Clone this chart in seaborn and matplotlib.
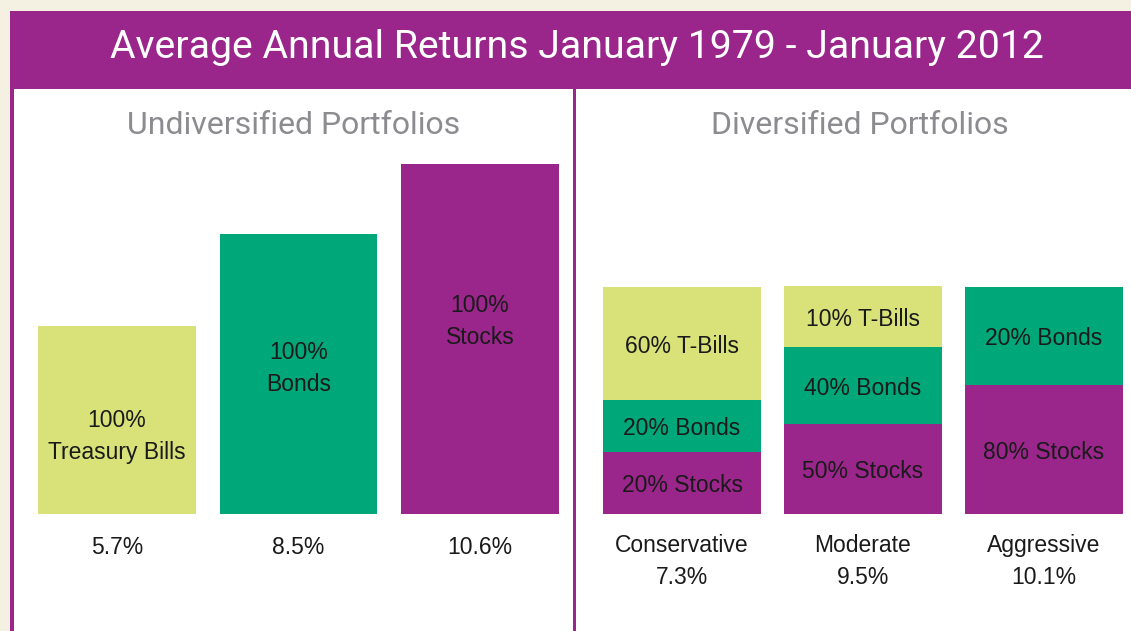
import seaborn as sns
from matplotlib import pyplot as plt
from matplotlib.patches import Rectangle
import pandas as pd

sns.set_theme(style='white')

# colours
purple = '#9A258B'
green = '#00A779'
yellow = '#D8E279'
cream = '#F4F1E3'

# data
undiv_names = ['Treasury Bills', 'Bonds', 'Stocks']
undiv_returns = [5.7, 8.5, 10.6]
undiv_labels = ['100%\nTreasury Bills', '100%\nBonds', '100%\nStocks']

div_names = ['Conservative', 'Moderate', 'Aggressive']
div_returns = [7.3, 9.5, 10.1]
# drawn segment heights (same units as the left panel)
div_stocks = [1.88, 2.73, 3.91]
div_bonds = [1.58, 2.33, 2.97]
div_tbills = [3.42, 1.85, 0.0]
stock_labels = ['20% Stocks', '50% Stocks', '80% Stocks']
bond_labels = ['20% Bonds', '40% Bonds', '20% Bonds']
tbill_labels = ['60% T-Bills', '10% T-Bills', '']

label_font = ['Liberation Sans', 'DejaVu Sans']
title_font = ['Roboto', 'DejaVu Sans']

W, H = 1131, 631
fig = plt.figure(figsize=(W / 100, H / 100), dpi=100)
fig.patch.set_facecolor(cream)

# frame: white panel, title bar, left border, divider
bg = fig.add_axes([0, 0, 1, 1])
bg.set_xlim(0, W)
bg.set_ylim(H, 0)
bg.axis('off')
bg.add_patch(Rectangle((10, 11), W - 10, H - 11, color='white', lw=0))
bg.add_patch(Rectangle((10, 11), W - 10, 78, color=purple, lw=0))
bg.add_patch(Rectangle((10, 89), 3.5, H - 89, color=purple, lw=0))
bg.add_patch(Rectangle((572.5, 89), 3.5, H - 89, color=purple, lw=0))

bg.text(577, 48, 'Average Annual Returns January 1979 - January 2012', color='white',
        fontsize=28.3, ha='center', va='center', family=title_font)
bg.text(294, 125, 'Undiversified Portfolios', color='#8C8C90', fontsize=23,
        ha='center', va='center', family=title_font)
bg.text(860, 125, 'Diversified Portfolios', color='#8C8C90', fontsize=23,
        ha='center', va='center', family=title_font)

# value axis: 0 at pixel 514, 33 px per unit
base, k = 514, 33.0
ylim = (-(H - base) / k, (base - 89) / k)
ax_h = (H - 89) / H
fs = 16.5
tc = '#1a1a1a'


def make_ax(px0, px1):
    ax = fig.add_axes([px0 / W, 0, (px1 - px0) / W, ax_h])
    ax.patch.set_alpha(0)
    return ax


# left panel
ax1 = make_ax(13.5, 572.5)
df1 = pd.DataFrame({'name': undiv_names, 'ret': undiv_returns})
sns.barplot(data=df1, x='name', y='ret', hue='name', palette=[yellow, green, purple],
            width=0.87, saturation=1, linewidth=0, legend=False, ax=ax1)
ax1.set_xlim((13.5 - 117) / 181.5, (572.5 - 117) / 181.5)
ax1.set_ylim(*ylim)
ax1.axis('off')
label_pos = [0.41, 0.52, 0.55]
for i, (v, lab) in enumerate(zip(undiv_returns, undiv_labels)):
    ax1.text(i, v * label_pos[i], lab, ha='center', va='center', fontsize=fs,
             family=label_font, color=tc, linespacing=1.5)
    ax1.text(i, -1.0, f'{v}%', ha='center', va='center', fontsize=fs,
             family=label_font, color=tc)

# right panel (stacked)
ax2 = make_ax(576, W)
cum1 = list(div_stocks)
cum2 = [a + b for a, b in zip(cum1, div_bonds)]
cum3 = [a + b for a, b in zip(cum2, div_tbills)]
for tops, col in [(cum3, yellow), (cum2, green), (cum1, purple)]:
    d = pd.DataFrame({'name': div_names, 'h': tops})
    sns.barplot(data=d, x='name', y='h', color=col, width=0.87, saturation=1,
                linewidth=0, ax=ax2)
ax2.set_xlim((576 - 682) / 181, (W - 682) / 181)
ax2.set_ylim(*ylim)
ax2.axis('off')
for i in range(3):
    for lo, hi, lab in [(0, cum1[i], stock_labels[i]), (cum1[i], cum2[i], bond_labels[i]),
                        (cum2[i], cum3[i], tbill_labels[i])]:
        if lab:
            ax2.text(i, (lo + hi) / 2 - 0.08, lab, ha='center', va='center', fontsize=fs,
                     family=label_font, color=tc)
    ax2.text(i, -1.45, f'{div_names[i]}\n{div_returns[i]}%', ha='center', va='center',
             fontsize=fs, family=label_font, color=tc, linespacing=1.5)

fig.savefig('out.png', dpi=100)
